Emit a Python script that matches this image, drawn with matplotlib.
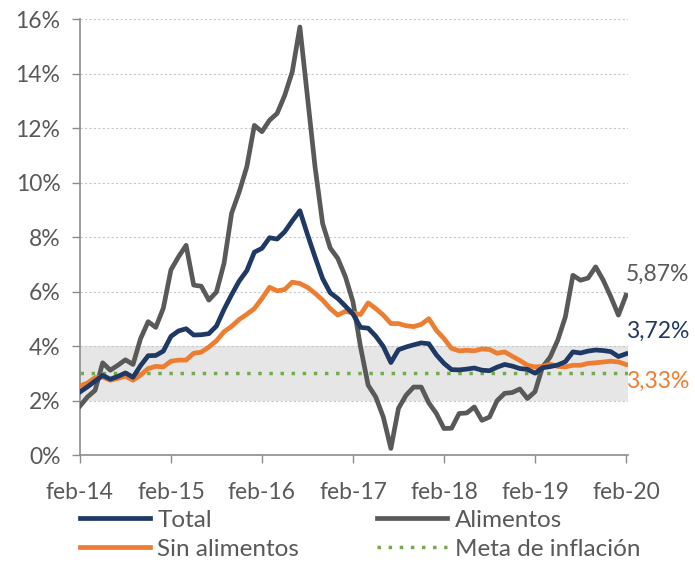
import numpy as np
import matplotlib.pyplot as plt

# Inflación anual (%), mensual feb-14 a feb-20
total = [2.32, 2.51, 2.72, 2.93, 2.79, 2.89, 3.02, 2.86, 3.29, 3.65, 3.66,
         3.82, 4.36, 4.56, 4.64, 4.41, 4.42, 4.46, 4.74, 5.35, 5.89, 6.39, 6.77,
         7.45, 7.59, 7.98, 7.93, 8.20, 8.60, 8.97, 8.10, 7.27, 6.48, 5.96, 5.75,
         5.47, 5.18, 4.69, 4.66, 4.37, 3.99, 3.40, 3.87, 3.97, 4.05, 4.12, 4.09,
         3.68, 3.37, 3.14, 3.13, 3.16, 3.20, 3.12, 3.10, 3.23, 3.33, 3.27, 3.18,
         3.15, 3.01, 3.21, 3.25, 3.31, 3.43, 3.79, 3.75, 3.82, 3.86, 3.84, 3.80,
         3.62, 3.72]
alimentos = [1.80, 2.14, 2.38, 3.39, 3.12, 3.30, 3.50, 3.33, 4.28, 4.90, 4.69,
             5.40, 6.80, 7.28, 7.70, 6.24, 6.20, 5.69, 5.99, 7.04, 8.88, 9.66, 10.58,
             12.10, 11.87, 12.29, 12.54, 13.20, 14.07, 15.71, 13.15, 10.58, 8.50, 7.60, 7.22,
             6.55, 5.63, 3.97, 2.57, 2.14, 1.40, 0.25, 1.72, 2.20, 2.50, 2.50, 1.92,
             1.53, 0.98, 0.99, 1.53, 1.55, 1.77, 1.28, 1.40, 2.00, 2.27, 2.30, 2.43,
             2.08, 2.33, 3.24, 3.60, 4.22, 5.07, 6.60, 6.42, 6.50, 6.91, 6.42, 5.81,
             5.14, 5.87]
sin_alimentos = [2.54, 2.65, 2.85, 2.87, 2.75, 2.82, 2.90, 2.75, 2.94, 3.18, 3.26,
                 3.24, 3.45, 3.49, 3.49, 3.74, 3.78, 3.97, 4.20, 4.53, 4.73, 4.98, 5.17,
                 5.38, 5.75, 6.16, 6.03, 6.08, 6.35, 6.30, 6.16, 5.94, 5.69, 5.38, 5.14,
                 5.28, 5.22, 5.16, 5.59, 5.38, 5.14, 4.83, 4.83, 4.75, 4.72, 4.80, 5.01,
                 4.58, 4.28, 3.92, 3.83, 3.85, 3.83, 3.90, 3.88, 3.74, 3.79, 3.63, 3.48,
                 3.30, 3.24, 3.26, 3.34, 3.26, 3.24, 3.30, 3.30, 3.37, 3.39, 3.42, 3.45,
                 3.42, 3.33]
meta = 3.0
rango = (2.0, 4.0)
etiquetas_x = ['feb-14', 'feb-15', 'feb-16', 'feb-17', 'feb-18', 'feb-19', 'feb-20']

plt.rcParams['font.family'] = ['Lato', 'DejaVu Sans']

gris = '#595959'
azul = '#1F3864'
naranja = '#ED7D31'
verde = '#70AD47'

fig = plt.figure(figsize=(6.95, 5.62), dpi=100)
ax = fig.add_axes([0.115, 0.19, 0.789, 0.776])

x = np.arange(len(total))

ax.axhspan(rango[0], rango[1], color='#E6E6E6', zorder=0, lw=0)
ax.plot(x, alimentos, color=gris, lw=3.4, label='Alimentos', zorder=3)
ax.plot(x, total, color=azul, lw=3.4, label='Total', zorder=4)
ax.plot(x, sin_alimentos, color=naranja, lw=3.4, label='Sin alimentos', zorder=3.5)
ax.axhline(meta, color=verde, lw=2.5, ls=(0, (1, 2.2)), label='Meta de inflación', zorder=2)

ax.set_xlim(0, 72.3)
ax.set_ylim(0, 16)
ax.set_yticks(np.arange(0, 17, 2))
ax.set_yticklabels([f'{v}%' for v in range(0, 17, 2)])
ax.set_xticks(np.arange(0, 73, 12))
ax.set_xticklabels(etiquetas_x)
ax.yaxis.grid(True, color='#C8C8C8', ls=(0, (2, 2)), lw=0.8, zorder=1)
ax.set_axisbelow(True)

for s in ['top', 'right']:
    ax.spines[s].set_visible(False)
for s in ['left', 'bottom']:
    ax.spines[s].set_color('#8C8C8C')
    ax.spines[s].set_linewidth(1.2)
ax.tick_params(axis='both', colors='#8C8C8C', labelcolor=gris, labelsize=16.5, length=6, width=1)
ax.tick_params(axis='x', pad=13)
ax.tick_params(axis='y', pad=8)

# Etiquetas finales
ax.annotate('5,87%', xy=(72, alimentos[-1]), xytext=(0, 15), textcoords='offset points',
            color=gris, fontsize=16.5, ha='left', va='center', annotation_clip=False)
ax.annotate('3,72%', xy=(72, total[-1]), xytext=(0, 16), textcoords='offset points',
            color=azul, fontsize=16.5, ha='left', va='center', annotation_clip=False)
ax.annotate('3,33%', xy=(72, sin_alimentos[-1]), xytext=(0, -12), textcoords='offset points',
            color=naranja, fontsize=16.5, ha='left', va='center', annotation_clip=False)

h, l = ax.get_legend_handles_labels()
orden = [1, 2, 0, 3]
fig.legend([h[i] for i in orden], [l[i] for i in orden], ncol=2, loc='lower left',
           bbox_to_anchor=(0.083, -0.035), frameon=False, fontsize=17.5, labelcolor=gris,
           handlelength=2.9, handletextpad=0.3, columnspacing=3.2, labelspacing=0.32)

fig.savefig('out.png', dpi=100)
